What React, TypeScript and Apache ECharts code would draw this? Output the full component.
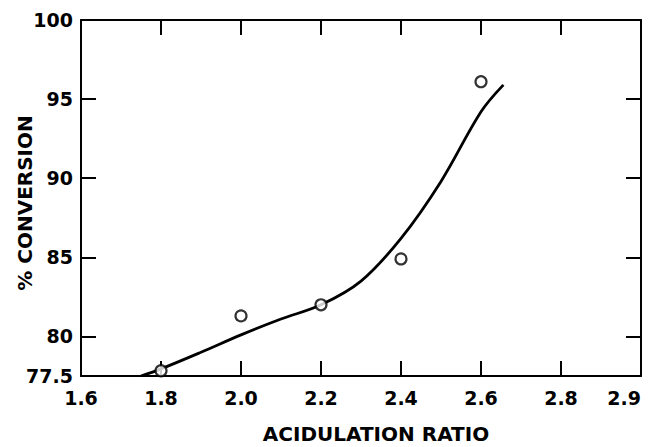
import React, { useEffect, useRef } from "react";
import * as echarts from "echarts";

// Measured points (open circles)
const pointX = [1.8, 2.0, 2.2, 2.4, 2.6];
const pointY = [77.83, 81.3, 82.0, 84.9, 96.1];

// Hand-drawn fitted curve
const curveX = [1.75, 1.8, 1.9, 2.0, 2.1, 2.2, 2.3, 2.4, 2.5, 2.6, 2.656];
const curveY = [77.5, 77.95, 79.0, 80.1, 81.1, 82.0, 83.5, 86.2, 89.8, 94.2, 95.9];

// Axis ticks and labels
const xTickValues = [1.8, 2.0, 2.2, 2.4, 2.6, 2.8];
const xLabelValues = [1.6, 1.8, 2.0, 2.2, 2.4, 2.6, 2.8, 3.0];
const xLabelTexts = ["1.6", "1.8", "2.0", "2.2", "2.4", "2.6", "2.8", "2.9"];
const yTickValues = [80, 85, 90, 95];
const yLabelValues = [77.5, 80, 85, 90, 95, 100];
const yLabelTexts = ["77.5", "80", "85", "90", "95", "100"];
const xTitle = "ACIDULATION RATIO";
const yTitle = "% CONVERSION";

const FONT = "DejaVu Sans";

function pick(values: number[], texts: string[], v: number): string {
  for (let i = 0; i < values.length; i++) {
    if (Math.abs(values[i] - v) < 1e-6) return texts[i];
  }
  return "";
}

export default function App() {
  const ref = useRef<HTMLDivElement>(null);

  useEffect(() => {
    document.body.style.margin = "0";
    if (!ref.current) return;
    const chart = echarts.init(ref.current, null, { renderer: "svg" });

    const lineStyle = { color: "#000", width: 2 };
    const labelStyle = {
      color: "#000",
      fontSize: 19,
      fontFamily: FONT,
      fontWeight: "bold" as const,
    };
    const nameFont = `bold 20px "${FONT}"`;

    chart.setOption({
      animation: false,
      backgroundColor: "#fff",
      grid: {
        left: 81,
        right: 11,
        top: 20,
        bottom: 71,
        containLabel: false,
        outerBoundsMode: "none",
      },
      xAxis: [
        {
          type: "value",
          min: 1.6,
          max: 3.0,
          position: "bottom",
          axisLine: { show: true, onZero: false, lineStyle },
          axisTick: { show: true, inside: true, length: 15, customValues: xTickValues, lineStyle },
          axisLabel: {
            ...labelStyle,
            customValues: xLabelValues,
            margin: 12,
            alignMaxLabel: "right",
            formatter: (v: number) => pick(xLabelValues, xLabelTexts, v),
          },
          splitLine: { show: false },
        },
        {
          type: "value",
          min: 1.6,
          max: 3.0,
          position: "top",
          axisLine: { show: true, onZero: false, lineStyle },
          axisTick: { show: true, inside: true, length: 15, customValues: xTickValues, lineStyle },
          axisLabel: { show: false },
          splitLine: { show: false },
        },
      ],
      yAxis: [
        {
          type: "value",
          min: 77.5,
          max: 100,
          position: "left",
          axisLine: { show: true, onZero: false, lineStyle },
          axisTick: { show: true, inside: true, length: 15, customValues: yTickValues, lineStyle },
          axisLabel: {
            ...labelStyle,
            customValues: yLabelValues,
            margin: 8,
            formatter: (v: number) => pick(yLabelValues, yLabelTexts, v),
          },
          splitLine: { show: false },
        },
        {
          type: "value",
          min: 77.5,
          max: 100,
          position: "right",
          axisLine: { show: true, onZero: false, lineStyle },
          axisTick: { show: true, inside: true, length: 15, customValues: yTickValues, lineStyle },
          axisLabel: { show: false },
          splitLine: { show: false },
        },
      ],
      graphic: [
        {
          type: "text",
          x: 376,
          y: 434,
          style: { text: xTitle, font: nameFont, fill: "#000", align: "center", verticalAlign: "middle" },
        },
        {
          type: "text",
          x: 25,
          y: 203,
          rotation: Math.PI / 2,
          style: { text: yTitle, font: nameFont, fill: "#000", align: "center", verticalAlign: "middle" },
        },
      ],
      series: [
        {
          type: "line",
          xAxisIndex: 0,
          yAxisIndex: 0,
          data: curveX.map((x, i) => [x, curveY[i]]),
          smooth: 0.35,
          showSymbol: false,
          lineStyle: { color: "#000", width: 2.8 },
          z: 2,
        },
        {
          type: "scatter",
          xAxisIndex: 0,
          yAxisIndex: 0,
          data: pointX.map((x, i) => [x, pointY[i]]),
          symbol: "circle",
          symbolSize: 11,
          itemStyle: { color: "#fff", borderColor: "#000", borderWidth: 2.2 },
          z: 3,
        },
      ],
    });

    return () => chart.dispose();
  }, []);

  return <div ref={ref} style={{ width: 652, height: 447 }} />;
}
